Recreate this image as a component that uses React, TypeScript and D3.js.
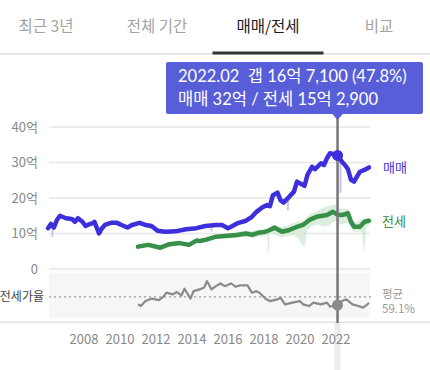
import * as d3 from 'd3';
import React from 'react';

// 매매 / 전세 시세 (억 원), 읽은 값
const maemae: [string, number][] = [
  ['2006-01', 11.5], ['2006-03', 12.7], ['2006-05', 11.7], ['2006-07', 13.8], ['2006-09', 15.0],
  ['2007-01', 14.3], ['2007-05', 14.1], ['2007-07', 13.3], ['2007-09', 14.3], ['2007-12', 13.3],
  ['2008-02', 12.1], ['2008-05', 12.7], ['2008-07', 12.9], ['2008-08', 13.3], ['2008-11', 10.0],
  ['2009-01', 11.5], ['2009-03', 12.4], ['2009-07', 13.0], ['2009-11', 13.0], ['2010-02', 12.4],
  ['2010-06', 11.7], ['2010-09', 12.4], ['2011-02', 13.0], ['2011-06', 12.4], ['2011-10', 12.1],
  ['2012-02', 10.8], ['2012-07', 10.5], ['2013-02', 10.6], ['2013-09', 11.2], ['2014-04', 11.5],
  ['2014-10', 12.1], ['2015-05', 12.4], ['2015-09', 12.4], ['2016-01', 11.5], ['2016-04', 12.1],
  ['2016-08', 13.0], ['2017-01', 13.6], ['2017-05', 14.7], ['2017-08', 16.1], ['2017-12', 17.4],
  ['2018-03', 18.0], ['2018-05', 17.7], ['2018-07', 20.8], ['2018-10', 21.5], ['2018-12', 19.4],
  ['2019-02', 18.7], ['2019-06', 20.4], ['2019-09', 21.8], ['2019-11', 24.6], ['2020-02', 23.9],
  ['2020-04', 23.4], ['2020-06', 26.5], ['2020-09', 28.8], ['2020-11', 28.1], ['2021-03', 29.8],
  ['2021-05', 29.3], ['2021-07', 31.2], ['2021-09', 32.6], ['2022-02', 32.0], ['2022-03', 31.6],
  ['2022-05', 30.2], ['2022-07', 29.3], ['2022-09', 28.1], ['2022-11', 25.1], ['2023-01', 24.6],
  ['2023-03', 26.0], ['2023-05', 27.4], ['2023-08', 27.9], ['2023-11', 28.6],
];

const jeonse: [string, number][] = [
  ['2011-01', 6.3], ['2011-08', 6.8], ['2012-04', 6.0], ['2012-10', 7.0], ['2013-05', 7.3],
  ['2013-11', 6.8], ['2014-04', 8.0], ['2014-06', 7.9], ['2014-10', 8.2], ['2015-05', 9.1],
  ['2015-11', 9.3], ['2016-07', 9.6], ['2017-01', 10.0], ['2017-05', 9.6], ['2017-09', 10.2],
  ['2018-02', 10.5], ['2018-06', 11.2], ['2018-08', 11.7], ['2019-01', 10.5], ['2019-06', 11.0],
  ['2019-10', 11.7], ['2020-03', 12.4], ['2020-08', 14.0], ['2020-12', 14.7], ['2021-07', 15.2],
  ['2021-11', 16.1], ['2022-02', 15.29], ['2022-05', 15.2], ['2022-09', 15.7], ['2022-11', 13.3],
  ['2023-01', 11.9], ['2023-05', 11.9], ['2023-08', 13.3], ['2023-11', 13.6],
];

// 전세 거래 범위 (하한, 상한)
const jeonseRange: [string, number, number][] = [
  ['2016-01', 8.5, 9.9], ['2017-01', 9.0, 10.8], ['2017-06', 8.8, 10.8], ['2018-03', 9.5, 11.2],
  ['2018-04', 4.0, 11.4], ['2018-05', 10.0, 11.8], ['2019-01', 9.0, 11.8], ['2019-09', 9.5, 13.0],
  ['2020-04', 6.5, 14.0], ['2020-06', 11.0, 15.0], ['2021-01', 12.5, 16.5], ['2021-06', 12.0, 17.5],
  ['2022-01', 13.5, 18.2], ['2022-04', 12.5, 17.0], ['2022-09', 13.0, 17.0], ['2023-01', 10.5, 13.0],
  ['2023-06', 10.5, 14.0], ['2023-08', 4.8, 14.0], ['2023-09', 11.0, 14.5], ['2023-11', 12.5, 14.5],
];

// 매매 하락 거래 (시점, 위, 아래)
const maemaeDips: [string, number, number][] = [
  ['2006-04', 12.0, 9.1], ['2019-05', 20.0, 16.6], ['2022-04', 31.0, 21.4], ['2015-02', 12.2, 10.6],
];

// 전세가율 (%)
const ratio: [string, number][] = [
  ['2011-01', 48.8], ['2011-03', 46.5], ['2011-06', 53.3], ['2011-10', 56.6], ['2012-03', 54.7],
  ['2012-06', 59.4], ['2012-08', 64.9], ['2012-12', 62.5], ['2013-03', 65.7], ['2013-06', 61.2],
  ['2013-08', 70.3], ['2013-12', 56.6], ['2014-02', 67.0], ['2014-06', 69.4], ['2014-09', 71.7],
  ['2014-11', 80.7], ['2015-02', 69.4], ['2015-05', 73.9], ['2015-08', 77.6], ['2015-11', 73.9],
  ['2016-03', 77.6], ['2016-06', 73.1], ['2016-09', 74.9], ['2017-02', 74.9], ['2017-05', 64.9],
  ['2017-08', 67.0], ['2017-10', 64.9], ['2018-02', 56.6], ['2018-05', 53.3], ['2018-10', 55.7],
  ['2018-12', 58.0], ['2019-03', 48.8], ['2019-08', 51.2], ['2020-01', 53.3], ['2020-03', 48.8],
  ['2020-07', 46.5], ['2020-10', 51.2], ['2021-03', 48.8], ['2021-07', 51.2], ['2021-09', 45.7],
  ['2022-02', 47.8], ['2022-05', 53.3], ['2022-08', 55.7], ['2022-12', 48.8], ['2023-04', 46.5],
  ['2023-07', 44.3], ['2023-10', 48.8], ['2023-11', 51.2],
];

const ratioAvg = 59.1;
const tabs = ['최근 3년', '전체 기간', '매매/전세', '비교'];
const activeTab = 2;
const yTicks = [0, 10, 20, 30, 40];
const xTicks = [2008, 2010, 2012, 2014, 2016, 2018, 2020, 2022];
const hoverDate = '2022-02';

const W = 430;
const H = 370;
const parse = d3.timeParse('%Y-%m');
const BLUE = '#3d30dc';
const GREEN = '#389048';
const KR = "'Noto Sans CJK KR', 'Noto Sans', sans-serif";

function fmtEok(v: number) {
  const eok = Math.floor(v);
  const man = Math.round((v - eok) * 10000);
  return man > 0 ? `${eok}억 ${d3.format(',')(man)}` : `${eok}억`;
}

export default function App() {
  const x = d3.scaleTime().domain([new Date(2006, 0, 1), new Date(2024, 0, 1)]).range([48, 372]);
  const y = d3.scaleLinear().domain([0, 40]).range([269, 127]);
  const yr = d3.scaleLinear().domain([30, 92]).range([318, 273]);

  const line = d3.line<[string, number]>()
    .x(d => x(parse(d[0])!))
    .y(d => y(d[1]));
  const rLine = d3.line<[string, number]>()
    .x(d => x(parse(d[0])!))
    .y(d => yr(d[1]));
  const band = d3.area<[string, number, number]>()
    .x(d => x(parse(d[0])!))
    .y0(d => y(d[1]))
    .y1(d => y(d[2]))
    .curve(d3.curveMonotoneX);

  const hx = x(parse(hoverDate)!);
  const hm = maemae.find(d => d[0] === hoverDate)![1];
  const hj = jeonse.find(d => d[0] === hoverDate)![1];
  const hr = ratio.find(d => d[0] === hoverDate)![1];
  const gap = hm - hj;
  const pct = (hj / hm) * 100;
  const tip1 = `${hoverDate.replace('-', '.')}  갭 ${fmtEok(gap)} (${pct.toFixed(1)}%)`;
  const tip2 = `매매 ${fmtEok(hm)} / 전세 ${fmtEok(hj)}`;

  const tabW = 111;
  const tab0 = 46;

  return (
    <svg width={W} height={H} style={{ position: 'absolute', left: 0, top: 0, background: '#fff' }}>
      {/* tabs */}
      {tabs.map((t, i) => (
        <text key={t} x={tab0 + i * tabW} y={32} textAnchor="middle" fontFamily={KR} fontSize={15.5}
          fill={i === activeTab ? '#1a1a1a' : '#a3a3a3'}>{t}</text>
      ))}
      <rect x={0} y={53} width={W} height={1.5} fill="#dedede" />
      <rect x={tab0 + activeTab * tabW - tabW / 2} y={51.5} width={tabW} height={3} fill="#333" />

      {/* grid */}
      {yTicks.map(t => (
        <g key={t}>
          <line x1={49} x2={370} y1={y(t)} y2={y(t)} stroke={t === 0 ? '#ececec' : '#e6e6e6'} strokeWidth={t === 0 ? 2.5 : 1.3} />
          <text x={38} y={y(t) + 4.5} textAnchor="end" fontFamily={KR} fontSize={13} fill="#888">
            {t === 0 ? '0' : `${t}억`}
          </text>
        </g>
      ))}

      {/* ratio panel */}
      <rect x={49} y={273} width={321} height={45} fill="#f6f6f6" />
      <line x1={49} x2={372} y1={yr(ratioAvg)} y2={yr(ratioAvg)} stroke="#999" strokeWidth={1.2} strokeDasharray="2,3" />
      <rect x={0} y={321.5} width={W} height={1.5} fill="#e2e2e2" />
      <text x={44} y={yr(ratioAvg) + 4.5} textAnchor="end" fontFamily={KR} fontSize={12} fill="#444">전세가율</text>
      <text x={382} y={298} fontFamily={KR} fontSize={11.5} fill="#999">평균</text>
      <text x={382} y={313} fontFamily={KR} fontSize={11.5} fill="#999">{ratioAvg}%</text>

      {/* hover highlight below axis */}
      <rect x={hx - 3} y={323} width={6} height={H - 323} fill="#ececec" />

      {/* ranges */}
      <path d={band(jeonseRange) ?? ''} fill="#cfe8d3" opacity={0.75} />
      {maemaeDips.map(d => (
        <line key={d[0]} x1={x(parse(d[0])!)} x2={x(parse(d[0])!)} y1={y(d[1])} y2={y(d[2])}
          stroke="#c9c5f2" strokeWidth={2} />
      ))}

      {/* series */}
      <path d={line(jeonse) ?? ''} fill="none" stroke={GREEN} strokeWidth={4.5} strokeLinejoin="round" strokeLinecap="round" />
      <path d={line(maemae) ?? ''} fill="none" stroke={BLUE} strokeWidth={4.5} strokeLinejoin="round" strokeLinecap="round" />
      <path d={rLine(ratio) ?? ''} fill="none" stroke="#8a8a8a" strokeWidth={2.2} strokeLinejoin="round" />

      <text x={383} y={172} fontFamily={KR} fontSize={13} fill="#4438d4">매매</text>
      <text x={382} y={226} fontFamily={KR} fontSize={13} fill={GREEN}>전세</text>

      {/* x axis */}
      {xTicks.map(t => (
        <text key={t} x={x(new Date(t, 0, 1))} y={344} textAnchor="middle" fontFamily={KR} fontSize={13} fill="#888">{t}</text>
      ))}

      {/* hover line + markers */}
      <line x1={hx} x2={hx} y1={116} y2={323} stroke="#767676" strokeWidth={2.5} />
      <circle cx={hx} cy={y(hm)} r={5.5} fill={BLUE} />
      <circle cx={hx} cy={yr(hr)} r={5.5} fill="#8a8a8a" />

      {/* tooltip */}
      <rect x={166} y={62} width={257} height={52} rx={2} fill="#585ed8" />
      <path d={`M${hx - 6},113 L${hx + 6},113 L${hx},120 Z`} fill="#585ed8" />
      <text x={178} y={82} fontFamily={`Lato, ${KR}`} fontSize={16.5} fill="#fff" style={{ whiteSpace: 'pre' }}>{tip1}</text>
      <text x={178} y={105} fontFamily={`Lato, ${KR}`} fontSize={16.5} fill="#fff">{tip2}</text>
    </svg>
  );
}
